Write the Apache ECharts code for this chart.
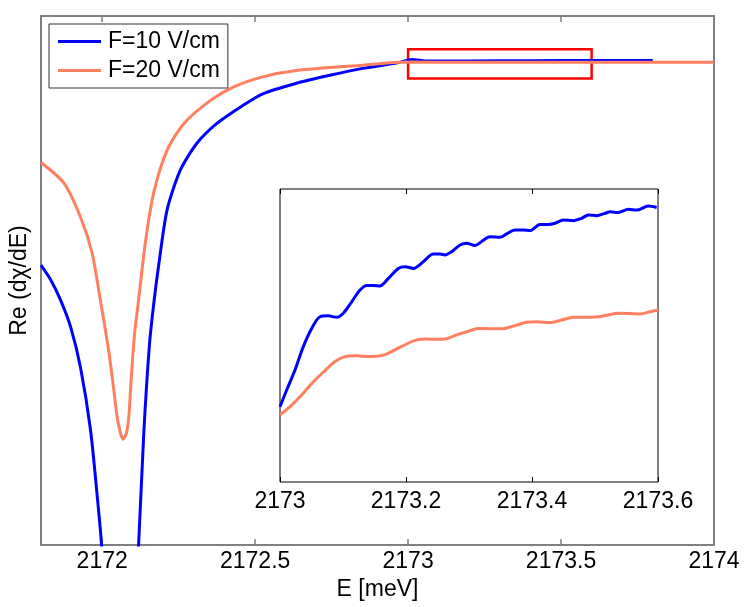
<!DOCTYPE html>
<html>
<head>
<meta charset="utf-8">
<script src="https://cdn.jsdelivr.net/npm/echarts@6/dist/echarts.min.js"></script>
<style>
  html, body { margin: 0; padding: 0; background: #fff; }
  #chart { width: 747px; height: 607px; }
</style>
</head>
<body>
<div id="chart"></div>
<script>
// series names (legend)
var seriesNames = ['F=10 V/cm', 'F=20 V/cm'];

// main plot, E in meV, Re(dchi/dE) in arbitrary units (axis 0..100)
var blueE = [2171.80, 2171.832, 2171.864, 2171.897, 2171.929, 2171.962, 2171.985, 2171.998,
  2172.06, 2172.119, 2172.136, 2172.155, 2172.170, 2172.184, 2172.212, 2172.255, 2172.309,
  2172.375, 2172.460, 2172.525, 2172.635, 2172.744, 2172.851, 2172.961, 2173.014, 2173.059,
  2173.2, 2173.4, 2173.6, 2173.8];
var blueRe = [52.9, 50.1, 46.3, 41.2, 33.6, 21.7, 8.5, 0,
  -60, 0, 21.2, 38.2, 46.3, 52.6, 63.3, 70.8, 75.9,
  79.7, 83.1, 85.3, 87.3, 88.8, 90.1, 91.1, 91.8, 91.5,
  91.5, 91.55, 91.6, 91.6];

var orangeE = [2171.80, 2171.875, 2171.929, 2171.967, 2171.994, 2172.021, 2172.038, 2172.049,
  2172.060, 2172.068, 2172.079, 2172.087, 2172.094, 2172.105, 2172.119, 2172.141, 2172.168,
  2172.212, 2172.266, 2172.353, 2172.43, 2172.525, 2172.635, 2172.851, 2172.993, 2173.2,
  2173.6, 2174.0];
var orangeRe = [72.3, 68.4, 62.0, 55.2, 46.3, 36.8, 29.3, 24.2,
  21.1, 20.0, 21.1, 24.2, 30.6, 39.4, 46.3, 57.1, 66.5,
  74.6, 79.6, 84.0, 86.6, 88.5, 89.7, 90.7, 91.3, 91.25,
  91.25, 91.25];

// zoomed region marked by the red box
var zoomBoxE = [2173.0, 2173.6];
var zoomBoxRe = [88.2, 93.7];

// inset, same E, Re in inset units (axis 0..10)
var insetBlueE = [2173.0000, 2173.0106, 2173.0238, 2173.0370, 2173.0503, 2173.0635, 2173.0767,
  2173.0899, 2173.1005, 2173.1138, 2173.1270, 2173.1376, 2173.1481, 2173.1587, 2173.1720,
  2173.1878, 2173.1984, 2173.2116, 2173.2275, 2173.2434, 2173.2540, 2173.2619, 2173.2725,
  2173.2857, 2173.2963, 2173.3095, 2173.3201, 2173.3333, 2173.3492, 2173.3598, 2173.3730,
  2173.3862, 2173.3968, 2173.4127, 2173.4259, 2173.4365, 2173.4497, 2173.4656, 2173.4788,
  2173.4894, 2173.5026, 2173.5159, 2173.5238, 2173.5370, 2173.5529, 2173.5661, 2173.5847,
  2173.5979];
var insetBlueRe = [2.57, 3.14, 3.82, 4.62, 5.24, 5.64, 5.67,
  5.62, 5.76, 6.15, 6.55, 6.71, 6.71, 6.69, 6.95,
  7.29, 7.35, 7.29, 7.52, 7.78, 7.78, 7.75, 7.86,
  8.09, 8.15, 8.07, 8.21, 8.37, 8.35, 8.47, 8.60,
  8.60, 8.58, 8.79, 8.79, 8.83, 8.94, 8.92, 9.00,
  9.11, 9.09, 9.17, 9.22, 9.20, 9.31, 9.28, 9.42,
  9.37];

var insetOrangeE = [2173.0000, 2173.0159, 2173.0344, 2173.0529, 2173.0714, 2173.0873, 2173.1032,
  2173.1217, 2173.1429, 2173.1640, 2173.1825, 2173.2011, 2173.2169, 2173.2328, 2173.2487,
  2173.2646, 2173.2804, 2173.2963, 2173.3148, 2173.3333, 2173.3519, 2173.3704, 2173.3915,
  2173.4074, 2173.4286, 2173.4471, 2173.4656, 2173.4868, 2173.5053, 2173.5185, 2173.5370,
  2173.5556, 2173.5714, 2173.5873, 2173.6005];
var insetOrangeRe = [2.29, 2.57, 2.97, 3.42, 3.80, 4.11, 4.28,
  4.31, 4.28, 4.33, 4.51, 4.71, 4.85, 4.88, 4.87,
  4.89, 5.02, 5.13, 5.24, 5.23, 5.23, 5.32, 5.45,
  5.47, 5.44, 5.53, 5.62, 5.62, 5.64, 5.69, 5.76,
  5.75, 5.73, 5.81, 5.87];

// tick labels
var mainTicks = [2172, 2172.5, 2173, 2173.5, 2174];
var insetTicks = [2173, 2173.2, 2173.4, 2173.6];

function pairs(xs, ys) {
  return xs.map(function(v, i) { return [v, ys[i]]; });
}

var fontFam = 'Liberation Sans, Arial, sans-serif';
var fs = 23;
var blue = '#0000ff';
var orange = '#ff7f5f';
var fmt = function(v) { return parseFloat(v.toFixed(2)).toString(); };

var myChart = echarts.init(document.getElementById('chart'));

var option = {
  animation: false,
  backgroundColor: '#fff',
  textStyle: { fontFamily: fontFam },
  legend: {
    data: seriesNames,
    orient: 'vertical',
    left: 49,
    top: 24,
    padding: [6, 8, 6, 9],
    icon: 'rect',
    itemWidth: 43,
    itemHeight: 3,
    itemGap: 6,
    backgroundColor: '#fff',
    borderColor: '#333',
    borderWidth: 1,
    textStyle: { fontSize: fs, color: '#000', fontFamily: fontFam, padding: [0, 0, 0, 2] },
    z: 20
  },
  grid: [{
    left: 41, right: 33, top: 16, bottom: 62,
    show: true, borderColor: '#808080', borderWidth: 2,
    outerBoundsMode: 'none'
  }, {
    left: 280, top: 189, width: 378, height: 293,
    show: true, borderColor: '#000', borderWidth: 1,
    backgroundColor: '#fff', z: 10,
    outerBoundsMode: 'none'
  }],
  xAxis: [{
    type: 'value', gridIndex: 0, position: 'bottom',
    min: 2171.8, max: 2174,
    axisLine: { show: false },
    splitLine: { show: false },
    axisTick: { inside: true, length: 6, customValues: mainTicks, lineStyle: { color: '#808080', width: 1.5 } },
    axisLabel: { customValues: mainTicks, margin: 5, fontSize: fs, color: '#000', fontFamily: fontFam, formatter: fmt, showMaxLabel: true },
    name: 'E [meV]', nameLocation: 'middle', nameGap: 28,
    nameTextStyle: { fontSize: fs, color: '#000', fontFamily: fontFam }
  }, {
    type: 'value', gridIndex: 0, position: 'top',
    min: 2171.8, max: 2174,
    axisLine: { show: false },
    splitLine: { show: false },
    axisTick: { inside: true, length: 6, customValues: mainTicks, lineStyle: { color: '#808080', width: 1.5 } },
    axisLabel: { show: false }
  }, {
    type: 'value', gridIndex: 1, position: 'bottom',
    min: 2173, max: 2173.6,
    axisLine: { show: false },
    splitLine: { show: false },
    axisTick: { inside: true, length: 5, customValues: insetTicks, lineStyle: { color: '#000', width: 1 } },
    axisLabel: { customValues: insetTicks, margin: 8, fontSize: fs, color: '#000', fontFamily: fontFam, formatter: fmt, showMaxLabel: true },
    z: 10
  }, {
    type: 'value', gridIndex: 1, position: 'top',
    min: 2173, max: 2173.6,
    axisLine: { show: false },
    splitLine: { show: false },
    axisTick: { inside: true, length: 5, customValues: insetTicks, lineStyle: { color: '#000', width: 1 } },
    axisLabel: { show: false },
    z: 10
  }],
  yAxis: [{
    type: 'value', gridIndex: 0,
    min: 0, max: 100,
    axisLine: { show: false }, axisTick: { show: false },
    axisLabel: { show: false }, splitLine: { show: false },
    name: 'Re (dχ/dE)', nameLocation: 'middle', nameGap: 10,
    nameTextStyle: { fontSize: fs, color: '#000', fontFamily: fontFam }
  }, {
    type: 'value', gridIndex: 1,
    min: 0, max: 10,
    axisLine: { show: false }, axisTick: { show: false },
    axisLabel: { show: false }, splitLine: { show: false }
  }],
  series: [{
    name: seriesNames[0], type: 'line',
    xAxisIndex: 0, yAxisIndex: 0,
    data: pairs(blueE, blueRe),
    symbol: 'none', smooth: 0.25, clip: true,
    lineStyle: { color: blue, width: 3 }, itemStyle: { color: blue },
    z: 2
  }, {
    name: seriesNames[1], type: 'line',
    xAxisIndex: 0, yAxisIndex: 0,
    data: pairs(orangeE, orangeRe),
    symbol: 'none', smooth: 0.25, clip: true,
    lineStyle: { color: orange, width: 3 }, itemStyle: { color: orange },
    z: 3,
    markArea: {
      silent: true,
      itemStyle: { color: 'rgba(0,0,0,0)', borderColor: '#ff0000', borderWidth: 2.5 },
      data: [[{ coord: [zoomBoxE[0], zoomBoxRe[1]] }, { coord: [zoomBoxE[1], zoomBoxRe[0]] }]]
    }
  }, {
    name: seriesNames[0], type: 'line',
    xAxisIndex: 2, yAxisIndex: 1,
    data: pairs(insetBlueE, insetBlueRe),
    symbol: 'none', smooth: 0.3, clip: true,
    lineStyle: { color: blue, width: 3 }, itemStyle: { color: blue },
    z: 12
  }, {
    name: seriesNames[1], type: 'line',
    xAxisIndex: 2, yAxisIndex: 1,
    data: pairs(insetOrangeE, insetOrangeRe),
    symbol: 'none', smooth: 0.3, clip: true,
    lineStyle: { color: orange, width: 3 }, itemStyle: { color: orange },
    z: 12
  }]
};

myChart.setOption(option);

window.onresize = function() {
  myChart.resize();
};
</script>
</body>
</html>
